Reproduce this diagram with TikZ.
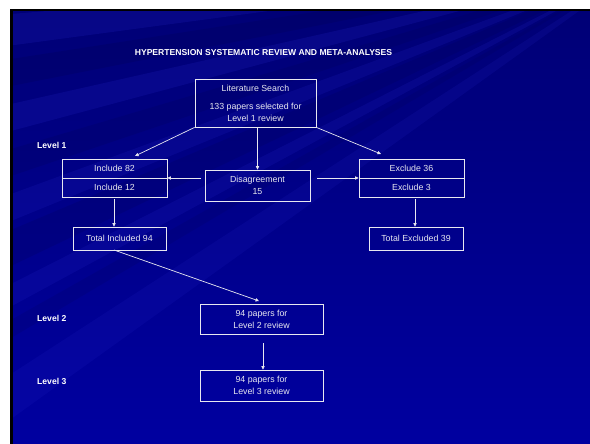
\documentclass[tikz,border=0pt]{standalone}
\usepackage{fontspec}
\setmainfont{Liberation Sans}
\usetikzlibrary{arrows.meta}
\definecolor{bgtop}{RGB}{0,0,118}
\definecolor{bgbot}{RGB}{0,0,160}
\definecolor{raydark}{RGB}{0,0,80}
\definecolor{raylight}{RGB}{35,35,200}
\definecolor{ink}{RGB}{232,232,240}
\begin{document}
\begin{tikzpicture}[x=1pt,y=-1pt,
  box/.style={draw=ink,line width=0.8pt,text=ink,align=center,inner sep=0pt,
    font=\fontsize{8.8}{12}\selectfont},
  lbl/.style={text=white,font=\fontsize{8.6}{10}\bfseries\selectfont,anchor=west,inner sep=0pt},
  arr/.style={draw=ink,line width=0.7pt,-{Triangle[length=3.5pt,width=3.2pt]}}]
\useasboundingbox (0,0) rectangle (590,444);
\fill[white] (0,0) rectangle (590,444);
\fill[black] (10,9) rectangle (590,444);
\shade[top color=bgtop,bottom color=bgbot] (13,12) rectangle (590,444);
\begin{scope}
\clip (13,12) rectangle (590,444);
\foreach \a/\b/\o in {-40/10/0.25, 70/100/0.22, 170/200/0.18, 260/300/0.18, 360/380/0.15}{
  \fill[raydark,opacity=\o] (650,-40) -- (-60,\a) -- (-60,\b) -- cycle;
}
\foreach \a/\b/\o in {20/55/0.20, 120/150/0.20, 220/250/0.18, 320/345/0.18, 420/470/0.15}{
  \fill[raylight,opacity=\o] (650,-40) -- (-60,\a) -- (-60,\b) -- cycle;
}
\fill[raydark,opacity=0.25] (650,-40) -- (120,-10) -- (190,-10) -- cycle;
\fill[raylight,opacity=0.20] (650,-40) -- (260,-10) -- (320,-10) -- cycle;
\fill[raydark,opacity=0.25] (650,-40) -- (420,-10) -- (470,-10) -- cycle;
\fill[raylight,opacity=0.25] (650,-40) -- (520,-10) -- (545,-10) -- cycle;
\fill[raylight,opacity=0.18] (650,-40) -- (640,450) -- (690,450) -- cycle;
\end{scope}
% title
\node[text=white,font=\fontsize{8.6}{10}\bfseries\selectfont,inner sep=0pt] (title) at (263.5,53) {HYPERTENSION SYSTEMATIC REVIEW AND META-ANALYSES};
% level labels
\node[lbl] (l1) at (37,145) {Level 1};
\node[lbl] (l2) at (37,318) {Level 2};
\node[lbl] (l3) at (37,381) {Level 3};
% boxes
\node[box,minimum width=121,minimum height=48] (lit) at (255.5,103) {Literature Search\\[6pt]133 papers selected for\\Level 1 review};
\node[box,minimum width=105,minimum height=19] (inc82) at (114.5,168.5) {Include 82};
\node[box,minimum width=105,minimum height=19] (inc12) at (114.5,187.5) {Include 12};
\node[box,minimum width=105,minimum height=31] (dis) at (257.5,185.5) {Disagreement\\15};
\node[box,minimum width=105,minimum height=19] (exc36) at (411.5,168.5) {Exclude 36};
\node[box,minimum width=105,minimum height=19] (exc3) at (411.5,187.5) {Exclude 3};
\node[box,minimum width=93,minimum height=23] (totin) at (119.5,238.5) {Total Included 94};
\node[box,minimum width=94,minimum height=23] (totex) at (416,238.5) {Total Excluded 39};
\node[box,minimum width=123,minimum height=30] (lv2) at (261.5,319) {94 papers for\\Level 2 review};
\node[box,minimum width=123,minimum height=31] (lv3) at (261.5,385.5) {94 papers for\\Level 3 review};
% free ends
\coordinate (incTop) at (135,156);
\coordinate (excTop) at (381,154);
\coordinate (disL) at (201,178);
\coordinate (disR) at (317,178);
\coordinate (incBot) at (114,199);
\coordinate (excBot) at (415,199);
\coordinate (totinB) at (114,250);
\coordinate (lv2Top) at (259,301);
\coordinate (lv2Bot) at (263,343);
% connectors
\draw[arr] (lit.south west) -- (incTop);
\draw[arr] (lit.south east) -- (excTop);
\draw[arr] (dis.north |- lit.south) -- (dis.north);
\draw[arr] (disL) -- (disL -| inc82.east);
\draw[arr] (disR) -- (disR -| exc36.west);
\draw[arr] (incBot) -- (incBot |- totin.north);
\draw[arr] (excBot) -- (excBot |- totex.north);
\draw[arr] (totinB) -- (lv2Top);
\draw[arr] (lv2Bot) -- (lv2Bot |- lv3.north);
\end{tikzpicture}
\end{document}
